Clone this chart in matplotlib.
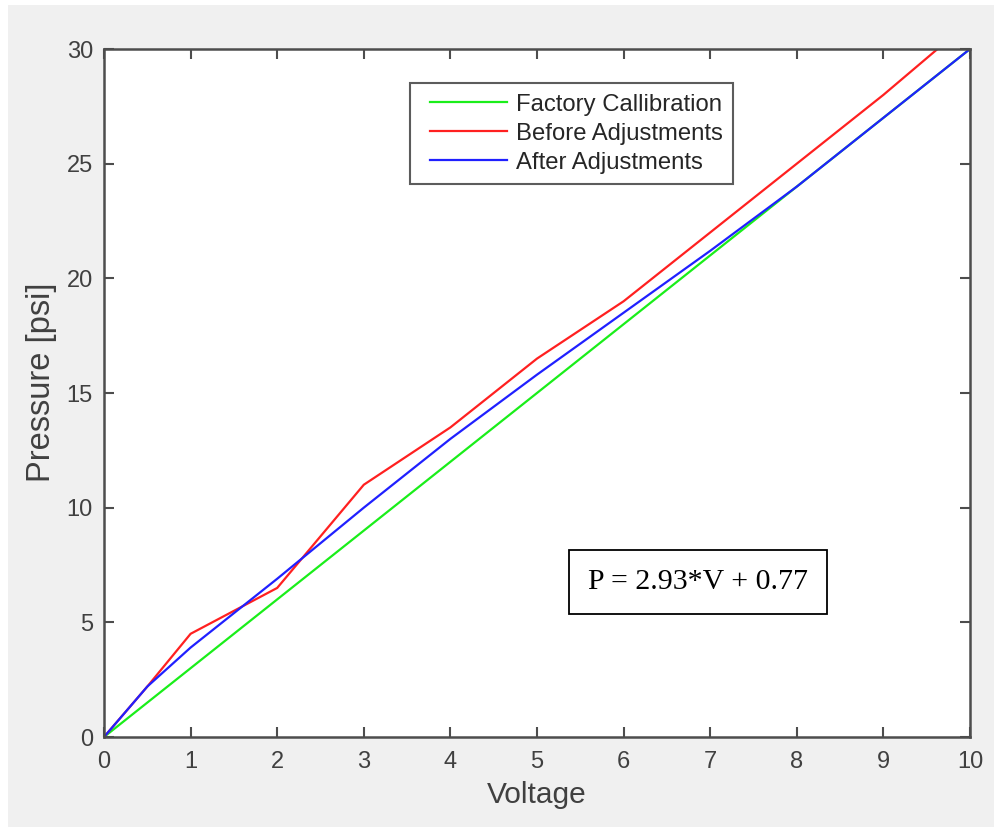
import matplotlib
matplotlib.use("Agg")
import numpy as np
import matplotlib.pyplot as plt
from matplotlib.patches import Rectangle
from matplotlib.legend_handler import HandlerLine2D

voltage = [0, 0.5, 1, 2, 3, 4, 5, 6, 7, 8, 9, 10]
factory = [0, 1.5, 3, 6, 9, 12, 15, 18, 21, 24, 27, 30]
before = [0, 2.2, 4.5, 6.5, 11, 13.5, 16.5, 19, 22, 25, 28, 31.2]
after = [0, 2.2, 3.9, 6.9, 10, 13, 15.8, 18.5, 21.2, 24, 27, 30]
labels = ["Factory Callibration", "Before Adjustments", "After Adjustments"]
equation = "P = 2.93*V + 0.77"

W, H = 995, 827
fig = plt.figure(figsize=(W / 100, H / 100), dpi=100, facecolor="white")
fig.patches.append(Rectangle((8 / W, 0), 1 - 8 / W, 1 - 5 / H, transform=fig.transFigure,
                             facecolor="#f0f0f0", edgecolor="none", zorder=-10))

ax = fig.add_axes([104 / W, 1 - 737 / H, (970 - 104) / W, (737 - 49) / H])
ax.set_facecolor("white")

ax.plot(voltage, factory, color="#1aee1a", lw=1.6, label=labels[0])
ax.plot(voltage, before, color="#ff2020", lw=1.6, label=labels[1])
ax.plot(voltage, after, color="#2020ff", lw=1.6, label=labels[2])

ax.set_xlim(0, 10)
ax.set_ylim(0, 30)
ax.set_xticks(range(0, 11))
ax.set_yticks(range(0, 31, 5))

axis_col = "#4d4d4d"
for s in ax.spines.values():
    s.set_color(axis_col)
    s.set_linewidth(1.8)
ax.tick_params(direction="in", length=7, width=1.5, colors=axis_col, top=True, right=True,
               labelsize=17)
ax.tick_params(axis="x", pad=10)
ax.tick_params(axis="y", pad=8)
for lab in ax.get_xticklabels() + ax.get_yticklabels():
    lab.set_fontfamily("Liberation Sans")
    lab.set_color("#404040")

ax.set_xlabel("Voltage", fontsize=21.5, family="Liberation Sans", color="#404040", labelpad=6)
ax.set_ylabel("Pressure [psi]", fontsize=23.5, family="Liberation Sans", color="#404040", labelpad=7)
ax.yaxis.label.set_y((737 - 382) / 688)


class OffsetLine(HandlerLine2D):
    def get_xdata(self, legend, xdescent, ydescent, width, height, fontsize):
        off = 7.0  # points of empty space before the line sample
        x = np.array([-xdescent + off, -xdescent + width])
        return x, x


leg = ax.legend(loc="upper left", bbox_to_anchor=(410 / W, 1 - 83 / H), bbox_transform=fig.transFigure,
                borderaxespad=0, fancybox=False, frameon=True, handlelength=3.6, handletextpad=0.38,
                labelspacing=0.29, borderpad=0.45, prop={"family": "Liberation Sans", "size": 17.2},
                handler_map={matplotlib.lines.Line2D: OffsetLine()})
leg.get_frame().set_edgecolor("#333333")
leg.get_frame().set_linewidth(1.5)
for t in leg.get_texts():
    t.set_color("#262626")

ax.text((698 - 104) / 866, (737 - 582) / 688, equation, transform=ax.transAxes, ha="center", va="center",
        fontsize=21.5, family="Liberation Serif", color="black",
        bbox=dict(boxstyle="square,pad=0.62", facecolor="white", edgecolor="black", linewidth=1.3))

fig.savefig("out.png", dpi=100, facecolor=fig.get_facecolor())
